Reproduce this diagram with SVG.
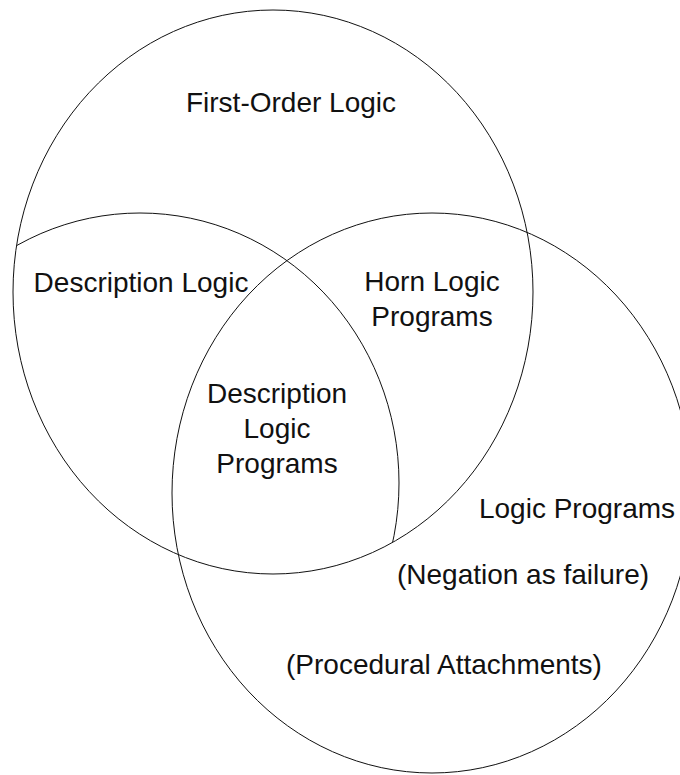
<svg xmlns="http://www.w3.org/2000/svg" width="680" height="775" viewBox="0 0 680 775">
  <style>
    .set { fill: none; stroke: #111; stroke-width: 1; }
    .lbl { font-family: "Liberation Sans", Arial, Helvetica, sans-serif; font-size: 28px; fill: #111; text-anchor: middle; }
  </style>
  <defs>
    <!-- the Description Logic set only shows inside First-Order Logic -->
    <clipPath id="inside-fol">
      <ellipse cx="273" cy="292" rx="260" ry="282"/>
    </clipPath>
  </defs>
  <rect width="680" height="775" fill="#fff"/>

  <g id="first-order-logic">
    <ellipse class="set" cx="273" cy="292" rx="260" ry="282"/>
    <text class="lbl" x="291" y="112">First-Order Logic</text>
  </g>

  <g id="description-logic">
    <ellipse class="set" cx="140" cy="483" rx="259" ry="270" clip-path="url(#inside-fol)"/>
    <text class="lbl" x="141" y="292">Description Logic</text>
  </g>

  <g id="logic-programs">
    <ellipse class="set" cx="432" cy="493" rx="260" ry="280"/>
    <text class="lbl" x="577" y="518">Logic Programs</text>
    <text class="lbl" x="523" y="584">(Negation as failure)</text>
    <text class="lbl" x="444" y="674">(Procedural Attachments)</text>
  </g>

  <g id="horn-logic-programs">
    <text class="lbl" x="432" y="291">Horn Logic</text>
    <text class="lbl" x="432" y="326">Programs</text>
  </g>

  <g id="description-logic-programs">
    <text class="lbl" x="277" y="403">Description</text>
    <text class="lbl" x="277" y="438">Logic</text>
    <text class="lbl" x="277" y="473">Programs</text>
  </g>

  <g id="connectors"/>
</svg>
